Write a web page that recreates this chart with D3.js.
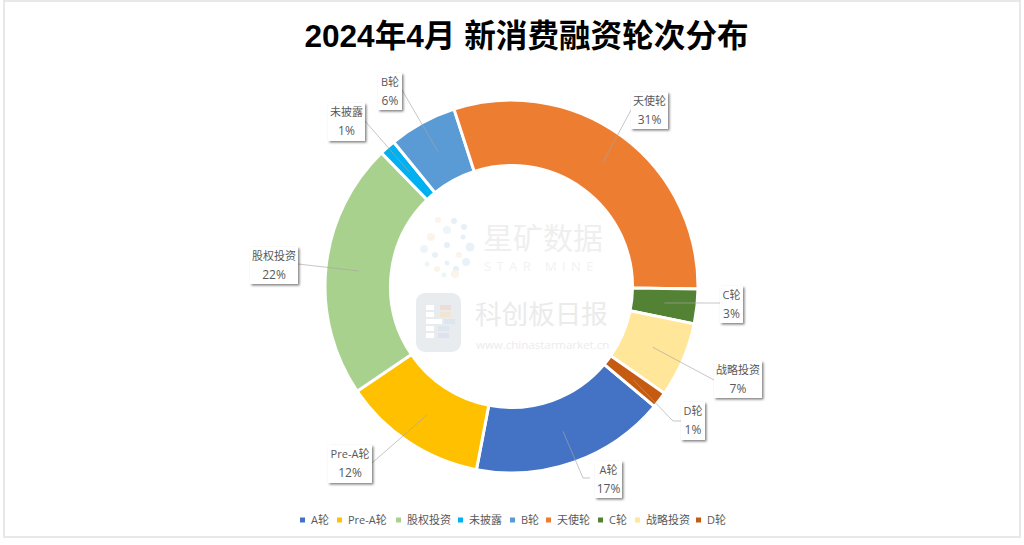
<!DOCTYPE html>
<html>
<head>
<meta charset="utf-8">
<script src="https://cdn.jsdelivr.net/npm/d3@7"></script>
<style>
html, body { margin: 0; padding: 0; background: #fff; }
text { font-family: "Open Sans", "Noto Sans CJK SC", sans-serif; }
</style>
</head>
<body>
<svg id="chart" width="1024" height="545"></svg>
<script>
var CATEGORIES = ['A轮', 'Pre-A轮', '股权投资', '未披露', 'B轮', '天使轮', 'C轮', '战略投资', 'D轮'];
var SHARES     = [16.9, 12.5, 22.2, 1.4, 5.9, 30.2, 3.0, 6.5, 1.4];
var SHARE_LABELS = ['17%', '12%', '22%', '1%', '6%', '31%', '3%', '7%', '1%'];
var COLORS     = ['#4472C4', '#FFC000', '#A9D18E', '#00B0F0', '#5B9BD5', '#ED7D31', '#548235', '#FFE699', '#C55A11'];

// label card boxes [left, top, right, bottom] and where the leader leaves them
var LABEL_BOXES = [[595, 461, 622, 498], [328, 445, 372, 483], [250, 247, 298, 284],
                   [328, 103, 365, 141], [378, 73, 402, 110], [631, 92, 668, 129],
                   [720, 286, 743, 323], [714, 361, 762, 398], [681, 402, 705, 440]];
var LEADER_ANCHORS = [[590, 478], [372, 463], [298, 264], [365, 121], [402, 90],
                      [631, 110], [720, 303], [714, 380], [681, 421]];
var LEADER_ELBOWS  = [[583, 478], null, null, null, null, null, null, null, [673, 421]];

var LEGEND_X = [302, 339, 398, 460, 512, 548, 600, 637, 698];

var svg = d3.select('#chart');

var defs = svg.append('defs');
var shadow = defs.append('filter').attr('id', 'card-shadow')
    .attr('x', '-20%').attr('y', '-20%').attr('width', '150%').attr('height', '150%');
shadow.append('feDropShadow').attr('dx', 1.5).attr('dy', 1.5).attr('stdDeviation', 1.2)
    .attr('flood-color', '#000').attr('flood-opacity', 0.5);

// outer frame of the screenshot
svg.append('rect').attr('x', 4).attr('y', 1).attr('width', 1016).attr('height', 536)
    .attr('fill', '#fff').attr('stroke', '#e8e8e8').attr('stroke-width', 2);

svg.append('text')
    .attr('x', 526.5).attr('y', 47)
    .attr('text-anchor', 'middle')
    .attr('font-size', 31.6).attr('font-weight', 700).attr('fill', '#000')
    .style('font-family', '"Liberation Sans", "Noto Sans CJK SC", sans-serif')
    .text('2024年4月 新消费融资轮次分布');

var CX = 511.5, CY = 286.5, OUTER = 186.5, INNER = 121;
var START = 130 * Math.PI / 180;

var pie = d3.pie().sort(null).startAngle(START).endAngle(START + 2 * Math.PI)
    .value(function(d) { return d.share; });
var arc = d3.arc().innerRadius(INNER).outerRadius(OUTER);

var rows = CATEGORIES.map(function(c, i) {
    return { name: c, share: SHARES[i], label: SHARE_LABELS[i], color: COLORS[i], box: LABEL_BOXES[i],
             anchor: LEADER_ANCHORS[i], elbow: LEADER_ELBOWS[i] };
});
var arcs = pie(rows);

// watermark inside the hole
var mark = svg.append('g').attr('class', 'watermark');
var dotColors = ['#e6f0f8', '#fbf4e8', '#e9f2f8', '#eef5f9'];
[[0, 0, 3], [12, 10, 3], [-12, 10, 3], [0, -15, 4], [16, -8, 2.5], [-16, -8, 4], [23, 2, 4.5], [-23, 4, 4],
 [9, 24, 3], [-10, 24, 3], [19, 17, 4], [-3, 30, 2.5], [7, -24, 3], [-9, -25, 3], [0, 18, 2.5], [-20, 19, 2.5], [17, -18, 3], [8, 29, 4]]
    .forEach(function(d, i) {
        mark.append('circle').attr('cx', 447 + d[0]).attr('cy', 245 + d[1]).attr('r', d[2])
            .attr('fill', dotColors[i % 4]);
    });
mark.append('text').attr('x', 483).attr('y', 249).attr('font-size', 30)
    .attr('fill', '#efefef').text('星矿数据');
mark.append('text').attr('x', 484).attr('y', 271).attr('font-size', 13)
    .attr('fill', '#f2f2f2').attr('letter-spacing', 5.4).text('STAR MINE');
mark.append('rect').attr('x', 416).attr('y', 293).attr('width', 45).attr('height', 59).attr('rx', 9)
    .attr('fill', '#e9ecef');
[[426, 305, 8], [426, 312, 8], [426, 319, 16], [426, 326, 8], [426, 333, 8]].forEach(function(d) {
    mark.append('rect').attr('x', d[0]).attr('y', d[1]).attr('width', d[2]).attr('height', 5).attr('fill', '#fff');
});
[[440, 305, '#efdcd6'], [440, 312, '#f1e6d2'], [444, 319, '#dde6ef'], [438, 326, '#dde6ef'], [438, 333, '#dfe1f1']].forEach(function(d) {
    mark.append('rect').attr('x', d[0]).attr('y', d[1]).attr('width', 11).attr('height', 5).attr('fill', d[2]);
});
mark.append('text').attr('x', 475).attr('y', 324).attr('font-size', 26.6)
    .attr('fill', '#ebebeb').text('科创板日报');
mark.append('text').attr('x', 476).attr('y', 349).attr('font-size', 11.5)
    .attr('fill', '#ececec').text('www.chinastarmarket.cn');

var chart = svg.append('g').attr('transform', 'translate(' + CX + ',' + CY + ')');
chart.selectAll('path.slice')
    .data(arcs)
    .enter().append('path')
    .attr('class', 'slice')
    .attr('d', arc)
    .attr('fill', function(d) { return d.data.color; })
    .attr('stroke', '#fff')
    .attr('stroke-width', 3);

// leader lines start at each slice's centroid
var line = d3.line();
svg.selectAll('path.leader')
    .data(arcs)
    .enter().append('path')
    .attr('class', 'leader')
    .attr('fill', 'none')
    .attr('stroke', '#a6a6a6')
    .attr('stroke-opacity', 0.8)
    .attr('stroke-width', 0.8)
    .attr('d', function(d) {
        var c = arc.centroid(d);
        var pts = [[CX + c[0], CY + c[1]]];
        if (d.data.elbow) pts.push(d.data.elbow);
        pts.push(d.data.anchor);
        return line(pts);
    });

var cards = svg.selectAll('g.card')
    .data(arcs)
    .enter().append('g')
    .attr('class', 'card');

cards.append('rect')
    .attr('x', function(d) { return d.data.box[0]; })
    .attr('y', function(d) { return d.data.box[1]; })
    .attr('width', function(d) { return d.data.box[2] - d.data.box[0]; })
    .attr('height', function(d) { return d.data.box[3] - d.data.box[1]; })
    .attr('fill', '#fff')
    .attr('filter', 'url(#card-shadow)');

cards.append('text')
    .attr('x', function(d) { return (d.data.box[0] + d.data.box[2]) / 2; })
    .attr('y', function(d) { return d.data.box[1] + 13; })
    .attr('text-anchor', 'middle').attr('font-size', 11).attr('fill', '#595959')
    .text(function(d) { return d.data.name; });

cards.append('text')
    .attr('x', function(d) { return (d.data.box[0] + d.data.box[2]) / 2; })
    .attr('y', function(d) { return d.data.box[1] + 32; })
    .attr('text-anchor', 'middle').attr('font-size', 12).attr('fill', '#595959')
    .text(function(d) { return d.data.label; });

var legend = svg.selectAll('g.legend')
    .data(rows)
    .enter().append('g')
    .attr('class', 'legend')
    .attr('transform', function(d, i) { return 'translate(' + LEGEND_X[i] + ',520)'; });

legend.append('rect')
    .attr('x', -2).attr('y', -2.5).attr('width', 5).attr('height', 5)
    .attr('fill', function(d) { return d.color; });

legend.append('text')
    .attr('x', 9).attr('y', 4)
    .attr('font-size', 11).attr('fill', '#595959')
    .text(function(d) { return d.name; });
</script>
</body>
</html>
